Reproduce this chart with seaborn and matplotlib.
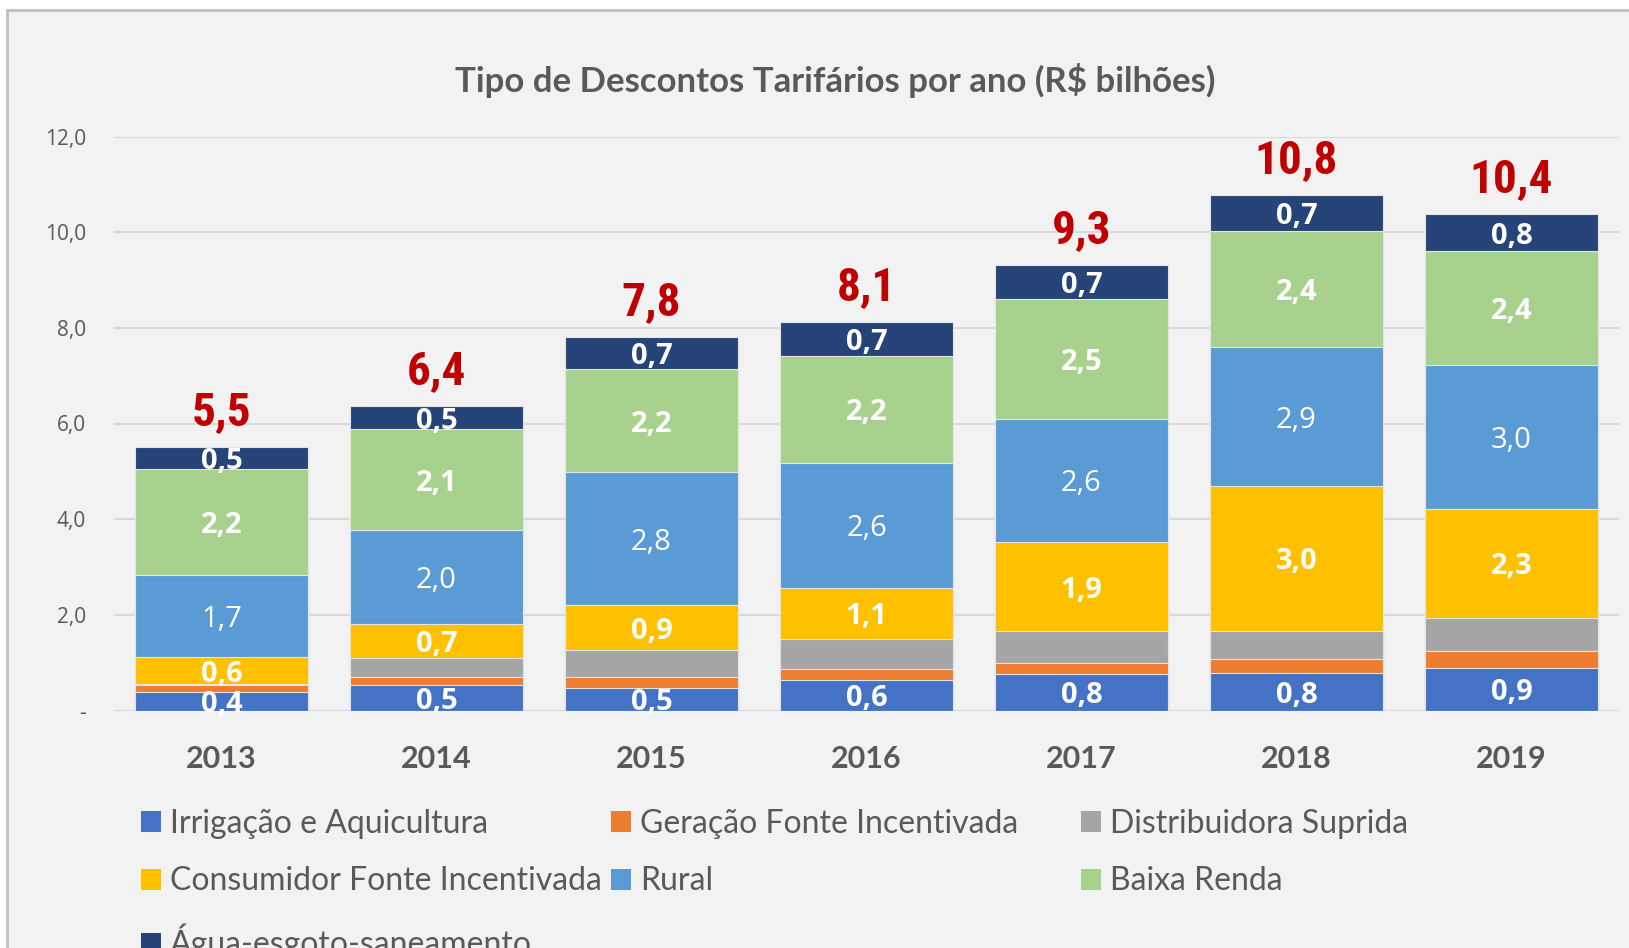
import matplotlib.pyplot as plt
from matplotlib.patches import Patch, Rectangle
from matplotlib.lines import Line2D
import pandas as pd
import seaborn as sns

# Data (R$ bilhões)
years = ["2013", "2014", "2015", "2016", "2017", "2018", "2019"]
irrigacao = [0.39, 0.53, 0.48, 0.64, 0.77, 0.78, 0.89]
geracao = [0.14, 0.16, 0.23, 0.23, 0.23, 0.30, 0.36]
distribuidora = [0.02, 0.40, 0.55, 0.63, 0.66, 0.58, 0.69]
consumidor = [0.57, 0.72, 0.94, 1.06, 1.86, 3.04, 2.27]
rural = [1.71, 1.96, 2.78, 2.62, 2.58, 2.89, 3.01]
baixa_renda = [2.21, 2.11, 2.16, 2.24, 2.51, 2.44, 2.39]
agua = [0.47, 0.49, 0.67, 0.70, 0.70, 0.74, 0.76]

names = ["Irrigação e Aquicultura", "Geração Fonte Incentivada", "Distribuidora Suprida",
         "Consumidor Fonte Incentivada", "Rural", "Baixa Renda", "Água-esgoto-saneamento"]
colors = ["#4472C4", "#ED7D31", "#A5A5A5", "#FFC000", "#5B9BD5", "#A9D18E", "#264478"]

df = pd.DataFrame(dict(zip(names, [irrigacao, geracao, distribuidora, consumidor,
                                   rural, baixa_renda, agua])), index=years)
cum = df.cumsum(axis=1)
totals = df.sum(axis=1)

W, H = 1629, 948
sns.set_theme(style="white")
plt.rcParams["font.family"] = ["Lato", "DejaVu Sans"]

fig = plt.figure(figsize=(W / 100, H / 100), dpi=100)
fig.patch.set_facecolor("white")
fig.patches.append(Rectangle((7 / W, 0), 1, 1 - 10 / H, transform=fig.transFigure,
                             facecolor="#F2F2F2", edgecolor="none", zorder=-5))
fig.lines.append(Line2D([7 / W, 7 / W], [0, 1 - 10 / H], transform=fig.transFigure,
                        color="#BFBFBF", lw=2))
fig.lines.append(Line2D([7 / W, 1], [1 - 10 / H, 1 - 10 / H], transform=fig.transFigure,
                        color="#BFBFBF", lw=2))

ax = fig.add_axes([114 / W, 1 - 710.5 / H, 1505 / W, 574 / H])
ax.set_facecolor("none")

# stacked bars: draw cumulative heights from the top series down
for name, color in reversed(list(zip(names, colors))):
    sns.barplot(x=years, y=cum[name].values, color=color, saturation=1, width=0.805,
                errorbar=None, edgecolor="#E4E4E4", linewidth=0.8, ax=ax, zorder=2)

# segment labels
labelled = {"Irrigação e Aquicultura": "bold", "Consumidor Fonte Incentivada": "bold",
            "Rural": "normal", "Baixa Renda": "bold", "Água-esgoto-saneamento": "bold"}
for i, yr in enumerate(years):
    for name, weight in labelled.items():
        v = df.loc[yr, name]
        mid = cum.loc[yr, name] - v / 2
        ax.text(i, mid, f"{v:.1f}".replace(".", ","), ha="center", va="center_baseline",
                color="white", fontsize=21, fontweight=weight, family=["Open Sans"],
                zorder=5, clip_on=False)
    ax.annotate(f"{totals[yr]:.1f}".replace(".", ","), (i, totals[yr]),
                xytext=(0, 16), textcoords="offset points", ha="center", va="baseline",
                color="#C00000", fontsize=34, fontweight="bold", fontstretch="condensed",
                family=["Roboto Condensed", "Liberation Sans Narrow", "DejaVu Sans"])

ax.set_xlim(-0.5, 6.5)
ax.set_ylim(0, 12)
ax.set_yticks(range(0, 13, 2))
ax.set_yticklabels(["-"] + [f"{v},0" for v in range(2, 13, 2)])
ax.yaxis.grid(True, color="#D9D9D9", lw=1.5)
ax.set_axisbelow(True)
sns.despine(ax=ax, left=True, bottom=True)
ax.tick_params(axis="y", length=0, pad=20, labelsize=15, labelcolor="#595959")
ax.tick_params(axis="x", length=0, pad=25, labelsize=22, labelcolor="#595959")
for t in ax.get_yticklabels():
    t.set_family(["Open Sans"])
for t in ax.get_xticklabels():
    t.set_fontweight("bold")
ax.set_xlabel("")
ax.set_ylabel("")

fig.text(835 / W, 1 - 81 / H, "Tipo de Descontos Tarifários por ano (R\\$ bilhões)",
         ha="center", va="center", fontsize=25, fontweight="bold", color="#595959")

# legend in three columns, filled row by row like the original
handles = [Patch(facecolor=c, edgecolor="none") for c in colors]
columns = [([0, 3, 6], 141), ([1, 4], 611), ([2, 5], 1081)]
for idx, x0 in columns:
    leg = fig.legend([handles[k] for k in idx], [names[k] for k in idx],
                     loc="upper left", bbox_to_anchor=(x0 / W, 1 - 809 / H),
                     frameon=False, fontsize=23, handlelength=0.62, handleheight=0.62,
                     handletextpad=0.28, labelspacing=0.86, borderpad=0, borderaxespad=0,
                     labelcolor="#595959")

fig.savefig("out.png", dpi=100)
plt.close()
